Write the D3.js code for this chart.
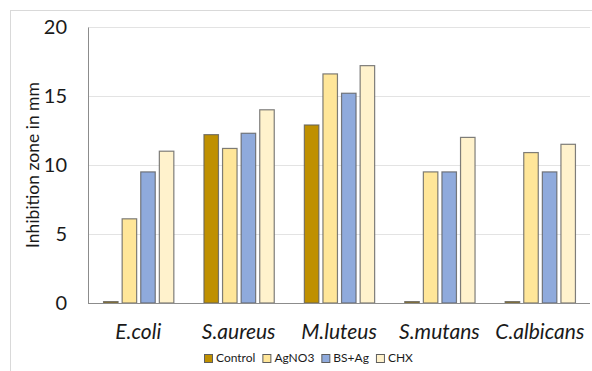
<!DOCTYPE html>
<html><head><meta charset="utf-8">
<script src="https://cdn.jsdelivr.net/npm/d3@7"></script>
<style>body{margin:0;background:#fff}svg{display:block}</style>
</head><body><svg id="c" width="592" height="371"></svg>
<script>
const categories = ["E.coli","S.aureus","M.luteus","S.mutans","C.albicans"];
const seriesNames = ["Control","AgNO3","BS+Ag","CHX"];
const control = [0.1, 12.2, 12.9, 0.1, 0.1];
const agno3   = [6.1, 11.2, 16.6, 9.5, 10.9];
const bsag    = [9.5, 12.3, 15.2, 9.5, 9.5];
const chx     = [11.0, 14.0, 17.2, 12.0, 11.5];
const yTicks  = [0, 5, 10, 15, 20];
const colors  = ["#BF9000","#FFE699","#8FAADC","#FFF2CC"];
const values = [control, agno3, bsag, chx];

const svg = d3.select("#c");
const font = "Lato, 'Open Sans', sans-serif";
const m = {l:88, r:590, t:27, b:303};

svg.append("rect").attr("x",10.5).attr("y",10.5).attr("width",600).attr("height",400)
  .attr("fill","none").attr("stroke","#d9d9d9");

const x = d3.scaleBand().domain(categories).range([m.l, m.r]).paddingInner(0.3).paddingOuter(0.15);
const xs = d3.scaleBand().domain(seriesNames).range([0, x.bandwidth()]).paddingInner(0.22);
const y = d3.scaleLinear().domain([0,20]).range([m.b, m.t]);

// grid
svg.append("g").selectAll("line").data(yTicks.filter(d=>d>0)).join("line")
  .attr("x1",m.l).attr("x2",m.r).attr("y1",d=>Math.round(y(d))+0.5).attr("y2",d=>Math.round(y(d))+0.5)
  .attr("stroke","#e3e3e3").attr("stroke-width",1.2);

// y axis
const ya = svg.append("g").attr("transform",`translate(${m.l},0)`)
  .call(d3.axisLeft(y).tickValues(yTicks).tickSize(0).tickPadding(21));
ya.select(".domain").attr("stroke","#8c8c8c");
ya.selectAll("text").attr("font-family",font).attr("font-size",20).attr("fill","#1a1a1a");

// bars
const g = svg.append("g");
seriesNames.forEach((s,si)=>{
  g.selectAll(".b"+si).data(categories).join("rect")
   .attr("x",(c)=>x(c)+xs(s)+0.5)
   .attr("y",(c,i)=>y(values[si][i]))
   .attr("width",xs.bandwidth())
   .attr("height",(c,i)=>y(0)-y(values[si][i]))
   .attr("fill",colors[si]).attr("stroke","#5e5e5e").attr("stroke-opacity",0.8).attr("stroke-width",1.2);
});

// x axis
const xa = svg.append("g").attr("transform",`translate(0,${m.b})`)
  .call(d3.axisBottom(x).tickSize(0).tickPadding(21));
xa.select(".domain").attr("stroke","#8c8c8c").attr("d",`M${m.l},0.5H${m.r}`);
xa.selectAll("text").attr("font-family",font).attr("font-size",21).attr("font-style","italic").attr("fill","#1a1a1a");

// y title
svg.append("text").attr("transform","translate(39,165) rotate(-90)").attr("text-anchor","middle")
  .attr("font-family",font).attr("font-size",17.5).attr("fill","#1a1a1a").text("Inhibition zone in mm");

// legend
const lg = svg.append("g").attr("transform","translate(204,362)");
let lx = 0;
seriesNames.forEach((s,i)=>{
  const it = lg.append("g").attr("transform",`translate(${lx},0)`);
  it.append("rect").attr("x",0.5).attr("y",-7.5).attr("width",8).attr("height",8)
    .attr("fill",colors[i]).attr("stroke","#5e5e5e");
  const t = it.append("text").attr("x",12).attr("y",0).attr("font-family",font).attr("font-size",12)
    .attr("fill","#1a1a1a").text(s);
  lx += 12 + t.node().getComputedTextLength() + 7;
});
</script></body></html>
